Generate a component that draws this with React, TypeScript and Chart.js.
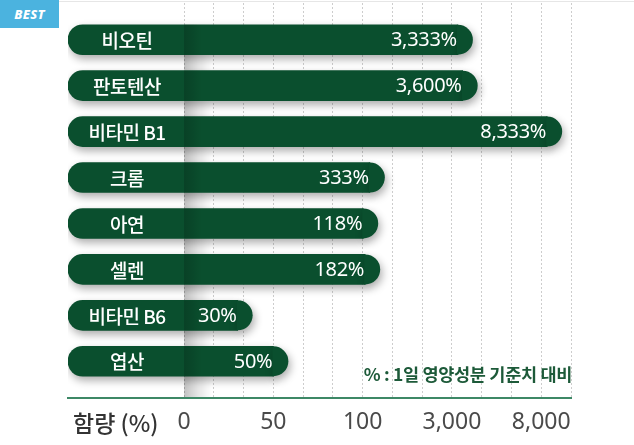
import React, { useEffect, useRef } from 'react';
import { Chart, registerables, Scale } from 'chart.js';

Chart.register(...registerables);

// ---------- data ----------
const categories = ['비오틴', '판토텐산', '비타민 B1', '크롬', '아연', '셀렌', '비타민 B6', '엽산'];
const values = [3333, 3600, 8333, 333, 118, 182, 30, 50];
const tickValues = [0, 50, 100, 3000, 8000];
const tickLabels = ['0', '50', '100', '3,000', '8,000'];
const axisTitle = '함량 (%)';
const noteText = '% : 1일 영양성분 기준치 대비';
const badgeText = 'BEST';

const valueLabels = values.map((v) => v.toLocaleString('en-US') + '%');

// ---------- style ----------
const BAR_COLOR = '#0a4f2e';
const GRID_SUBDIVISIONS = 3; // dotted grid lines per labelled step
const LABEL_ROOM_STEPS = 1.3; // room left of 0 for the category names (in axis steps)
const EXTRA_STEPS = 1 / 3; // axis continues one grid line past the last tick
const ROW_PAD = 0.8; // empty space above first / below last row (in rows)

// piecewise axis: each labelled tick is one equal step
function toUnit(v: number): number {
  const k = tickValues;
  const n = k.length - 1;
  if (v <= k[0]) return (v - k[0]) / (k[1] - k[0]);
  for (let i = 1; i <= n; i++) {
    if (v <= k[i]) return i - 1 + (v - k[i - 1]) / (k[i] - k[i - 1]);
  }
  return n + (v - k[n]) / (k[n] - k[n - 1]);
}
function fromUnit(u: number): number {
  const k = tickValues;
  const n = k.length - 1;
  if (u <= 0) return k[0] + u * (k[1] - k[0]);
  if (u >= n) return k[n] + (u - n) * (k[n] - k[n - 1]);
  const i = Math.floor(u);
  return k[i] + (u - i) * (k[i + 1] - k[i]);
}

class SegmentScale extends Scale {
  static id = 'segment';
  static defaults = {};
  _u0 = 0;
  _uR = 1;
  determineDataLimits() {
    this.min = this.options.min;
    this.max = this.options.max;
  }
  buildTicks() {
    const ticks: { value: number }[] = [];
    const uMax = toUnit(this.max);
    for (let k = 0; k / GRID_SUBDIVISIONS <= uMax + 1e-9; k++) {
      ticks.push({ value: fromUnit(k / GRID_SUBDIVISIONS) });
    }
    return ticks;
  }
  configure() {
    super.configure();
    this._u0 = toUnit(this.min);
    this._uR = toUnit(this.max) - this._u0;
  }
  getLabelForValue(v: number) {
    return String(v);
  }
  getPixelForValue(v: number) {
    return this.getPixelForDecimal((toUnit(v) - this._u0) / this._uR);
  }
  getValueForPixel(p: number) {
    return fromUnit(this._u0 + this.getDecimalForPixel(p) * this._uR);
  }
}
Chart.register(SegmentScale);

const X_MIN = fromUnit(-LABEL_ROOM_STEPS);
const X_MAX = fromUnit(tickValues.length - 1 + EXTRA_STEPS);
const Y_MIN = -ROW_PAD;
const Y_MAX = categories.length - 1 + ROW_PAD;

const KR = "'Noto Sans CJK KR', 'Noto Sans', sans-serif";
const LAT = "'Noto Sans', sans-serif";

const decorPlugin = {
  id: 'decor',
  beforeDatasetsDraw(chart: any) {
    const { ctx, chartArea, scales } = chart;
    const x0 = scales.x.getPixelForValue(0);
    const meta = chart.getDatasetMeta(0);
    const first = meta.data[0];
    const top = first.y - first.height / 2;
    const g = ctx.createLinearGradient(x0, 0, x0 + 28, 0);
    g.addColorStop(0, 'rgba(0,0,0,0.24)');
    g.addColorStop(0.5, 'rgba(0,0,0,0.10)');
    g.addColorStop(1, 'rgba(0,0,0,0)');
    ctx.save();
    ctx.fillStyle = g;
    ctx.fillRect(x0, top, 28, chartArea.bottom - top - 1);
    ctx.restore();
    ctx.save();
    ctx.shadowColor = 'rgba(0,0,0,0.33)';
    ctx.shadowBlur = 8;
    ctx.shadowOffsetX = 2;
    ctx.shadowOffsetY = 4;
  },
  afterDatasetsDraw(chart: any) {
    const { ctx, chartArea, scales } = chart;
    const meta = chart.getDatasetMeta(0);
    const x0 = scales.x.getPixelForValue(0);
    // round caps past the value point
    ctx.fillStyle = BAR_COLOR;
    meta.data.forEach((bar: any) => {
      const { x, y, height } = bar.getProps(['x', 'y', 'height'], true);
      const r = height / 2;
      ctx.beginPath();
      ctx.moveTo(x - 1, y - r);
      ctx.lineTo(x, y - r);
      ctx.arc(x, y, r, -Math.PI / 2, Math.PI / 2);
      ctx.lineTo(x - 1, y + r);
      ctx.closePath();
      ctx.fill();
    });
    ctx.restore();

    // subtle fold on the bars
    meta.data.forEach((bar: any) => {
      const { y, height } = bar.getProps(['y', 'height'], true);
      const g = ctx.createLinearGradient(x0, 0, x0 + 18, 0);
      g.addColorStop(0, 'rgba(0,0,0,0.18)');
      g.addColorStop(1, 'rgba(0,0,0,0)');
      ctx.save();
      ctx.fillStyle = g;
      ctx.fillRect(x0, y - height / 2, 18, height);
      ctx.restore();
    });

    // labels inside bars
    ctx.save();
    ctx.fillStyle = '#ffffff';
    ctx.textBaseline = 'middle';
    meta.data.forEach((bar: any, i: number) => {
      const { x, y, height, base } = bar.getProps(['x', 'y', 'height', 'base'], true);
      ctx.font = `500 19px ${KR}`;
      ctx.textAlign = 'center';
      (ctx as any).letterSpacing = '-0.5px';
      ctx.fillText(categories[i], (base + x0) / 2 + 1, y + 1);
      (ctx as any).letterSpacing = '-0.3px';
      ctx.font = `20px ${LAT}`;
      ctx.textAlign = 'right';
      ctx.fillText(valueLabels[i], x + height / 2 - 16, y + 1);
    });
    ctx.restore();

    // note
    ctx.save();
    ctx.font = `bold 17.5px ${KR}`;
    ctx.fillStyle = '#1d5a39';
    ctx.textAlign = 'right';
    ctx.textBaseline = 'middle';
    (ctx as any).letterSpacing = '-0.3px';
    ctx.fillText(noteText, chartArea.right + 1, chartArea.bottom - 24);
    ctx.restore();

    // axis title
    ctx.save();
    ctx.font = `500 23px ${KR}`;
    ctx.fillStyle = '#333333';
    ctx.textAlign = 'left';
    ctx.textBaseline = 'middle';
    ctx.fillText(axisTitle, chartArea.left + 5, scales.x.top + 25);
    ctx.restore();
  },
};

export default function App() {
  const ref = useRef<HTMLCanvasElement>(null);
  useEffect(() => {
    const canvas = ref.current!;
    const chart = new Chart(canvas, {
      type: 'bar',
      data: {
        labels: categories,
        datasets: [
          {
            data: values.map((v, i) => ({ x: v, y: i })),
            base: X_MIN,
            backgroundColor: BAR_COLOR,
            borderWidth: 0,
            borderSkipped: 'end',
            borderRadius: 15,
            barThickness: 30,
          } as any,
        ],
      },
      options: {
        indexAxis: 'y',
        responsive: false,
        animation: false,
        layout: { padding: { left: 68, right: 63, top: 3, bottom: 0 } },
        plugins: { legend: { display: false }, tooltip: { enabled: false } },
        scales: {
          x: {
            type: 'segment' as any,
            min: X_MIN,
            max: X_MAX,
            afterFit: (s: any) => {
              s.height = 47;
            },
            grid: { color: '#cdcdcd', lineWidth: 1, drawTicks: false },
            border: { display: true, color: '#3d8866', width: 2, dash: [2, 2] },
            ticks: {
              autoSkip: false,
              maxRotation: 0,
              padding: 11,
              color: '#4a4a4a',
              font: { family: LAT, size: 23 },
              callback: (_v: any, i: number) =>
                i % GRID_SUBDIVISIONS === 0 && tickLabels[i / GRID_SUBDIVISIONS] !== undefined
                  ? tickLabels[i / GRID_SUBDIVISIONS]
                  : '',
            },
          } as any,
          y: {
            type: 'linear',
            reverse: true,
            offset: false,
            bounds: 'data',
            grace: 0,
            min: Y_MIN,
            max: Y_MAX,
            display: false,
            afterDataLimits: (s: any) => {
              s.min = Y_MIN;
              s.max = Y_MAX;
            },
          } as any,
        },
      },
      plugins: [decorPlugin],
    });
    return () => chart.destroy();
  }, []);

  return (
    <div style={{ position: 'fixed', left: 0, top: 0, width: 634, height: 445, background: '#fff', overflow: 'hidden' }}>
      <div style={{ position: 'absolute', left: 0, top: 1, width: 634, height: 1, background: '#e6e6e6' }} />
      <canvas ref={ref} width={634} height={445} style={{ position: 'absolute', left: 0, top: 0, width: 634, height: 445 }} />
      <div
        style={{
          position: 'absolute',
          left: 0,
          top: 0,
          width: 59,
          height: 28,
          background: '#4bb3df',
          color: '#fff',
          fontFamily: LAT,
          fontStyle: 'italic',
          fontWeight: 800,
          fontSize: 13,
          display: 'flex',
          alignItems: 'center',
          justifyContent: 'center',
          letterSpacing: '0.3px',
        }}
      >
        {badgeText}
      </div>
    </div>
  );
}
